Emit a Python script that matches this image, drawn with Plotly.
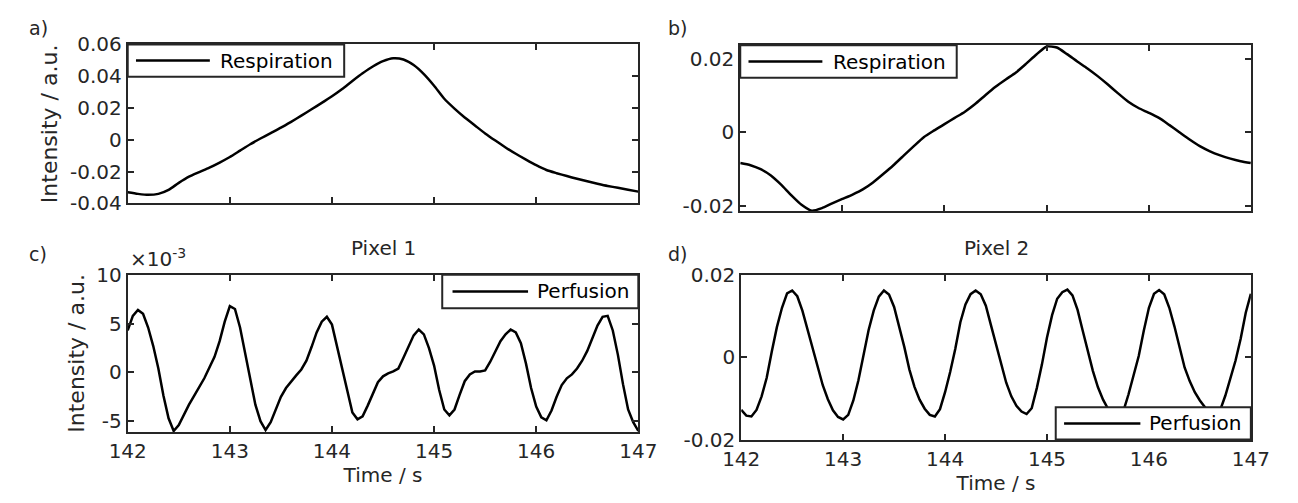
import numpy as np
import plotly.graph_objects as go

W, H = 1298, 503

# ---------------- data ----------------
t_resp = np.round(np.arange(51) * 0.1 + 142.0, 2)
t_perf = np.round(np.arange(101) * 0.05 + 142.0, 2)

resp_a = [-0.0330, -0.0340, -0.0346, -0.0340, -0.0315, -0.0271, -0.0232, -0.0203, -0.0175, -0.0143,
          -0.0108, -0.0068, -0.0028, 0.0008, 0.0042, 0.0076, 0.0113, 0.0152, 0.0192, 0.0232,
          0.0274, 0.0320, 0.0370, 0.0418, 0.0461, 0.0495, 0.0513, 0.0505, 0.0470, 0.0413,
          0.0340, 0.0258, 0.0196, 0.0140, 0.0090, 0.0040, -0.0005, -0.0048, -0.0088, -0.0125,
          -0.0160, -0.0190, -0.0210, -0.0228, -0.0245, -0.0261, -0.0276, -0.0290, -0.0302, -0.0314,
          -0.0326]

resp_b = [-0.0084, -0.0090, -0.0101, -0.0118, -0.0143, -0.0172, -0.0198, -0.0214, -0.0207, -0.0194,
          -0.0182, -0.0170, -0.0156, -0.0137, -0.0114, -0.0090, -0.0064, -0.0038, -0.0013, 0.0005,
          0.0022, 0.0039, 0.0056, 0.0077, 0.0101, 0.0124, 0.0144, 0.0163, 0.0187, 0.0212,
          0.0234, 0.0231, 0.0213, 0.0193, 0.0174, 0.0153, 0.0130, 0.0106, 0.0083, 0.0066,
          0.0053, 0.0039, 0.0020, 0.0000, -0.0020, -0.0038, -0.0052, -0.0063, -0.0072, -0.0079,
          -0.0084]

# perfusion signals in units of 1e-3
perf1_e3 = [4.3, 5.8, 6.4, 6.0, 4.6, 2.7, 0.4, -2.4, -4.7, -6.0,
            -5.4, -4.3, -3.3, -2.4, -1.5, -0.6, 0.5, 1.6, 3.2, 5.2,
            6.8, 6.5, 4.6, 1.9, -0.9, -3.3, -5.0, -5.9, -5.1, -3.7,
            -2.5, -1.6, -0.9, -0.3, 0.3, 1.2, 2.6, 4.1, 5.2, 5.7,
            4.9, 2.6, 0.2, -2.0, -4.1, -4.8, -4.5, -3.4, -2.1, -1.0,
            -0.4, -0.1, 0.1, 0.4, 1.5, 2.7, 3.8, 4.4, 3.9, 2.5,
            0.7, -1.8, -3.8, -4.4, -3.8, -2.3, -0.9, -0.2, 0.1, 0.1,
            0.2, 1.1, 2.2, 3.2, 3.9, 4.4, 4.1, 3.0, 0.9, -1.6,
            -3.5, -4.6, -4.9, -3.9, -2.5, -1.3, -0.6, -0.2, 0.4, 1.2,
            2.2, 3.5, 4.8, 5.7, 5.8, 4.3, 1.8, -1.2, -3.8, -5.1,
            -6.0]

perf2_e3 = [-12.8, -14.2, -14.4, -12.8, -9.5, -5.0, 1.4, 7.3, 12.0, 15.5,
            16.2, 14.8, 11.3, 6.8, 2.2, -2.4, -6.8, -10.2, -12.9, -14.5,
            -15.1, -14.0, -10.5, -5.6, 0.5, 6.6, 11.3, 14.7, 16.2, 15.2,
            12.2, 7.5, 2.5, -3.0, -7.2, -10.3, -12.5, -14.0, -14.4, -12.6,
            -8.5, -3.6, 2.0, 8.5, 12.8, 15.3, 16.2, 15.3, 12.5, 7.8,
            3.3, -1.8, -6.2, -9.5, -11.8, -13.2, -13.8, -12.4, -7.5, -1.8,
            4.8, 10.2, 14.2, 15.8, 16.4, 15.0, 11.5, 6.5, 1.5, -3.3,
            -7.3, -10.3, -12.6, -14.0, -14.4, -13.0, -9.0, -4.5, 0.3, 6.5,
            12.0, 15.4, 16.3, 15.3, 12.0, 7.5, 2.2, -2.5, -5.8, -8.5,
            -10.5, -12.2, -13.8, -14.2, -12.8, -9.3, -5.2, -0.8, 4.5, 10.8,
            15.4]

x_ticks = [142, 143, 144, 145, 146, 147]
ya_ticks = [-0.04, -0.02, 0, 0.02, 0.04, 0.06]
ya_text = ["-0.04", "-0.02", "0", "0.02", "0.04", "0.06"]
yb_ticks = [-0.02, 0, 0.02]
yb_text = ["-0.02", "0", "0.02"]
yc_ticks = [-5e-3, 0, 5e-3, 10e-3]
yc_text = ["-5", "0", "5", "10"]
yd_ticks = [-0.02, 0, 0.02]
yd_text = ["-0.02", "0", "0.02"]

perf1 = [v * 1e-3 for v in perf1_e3]
perf2 = [v * 1e-3 for v in perf2_e3]

# ---------------- layout helpers ----------------
FONT = "DejaVu Sans"
AX = "#262626"


def px(x):
    return x / W


def py(y):
    return 1 - y / H


def dom_x(l, r):
    return [px(l), px(r)]


def dom_y(top, bottom):
    return [py(bottom), py(top)]


boxes = {
    "a": (112, 638, 34, 201),
    "b": (743, 1269, 35, 209),
    "c": (112, 638, 276, 441),
    "d": (744, 1269, 276, 449),
}

common = dict(showline=True, linecolor=AX, linewidth=2, mirror="ticks",
              ticks="inside", ticklen=6, tickwidth=2, tickcolor=AX,
              showgrid=False, zeroline=False,
              tickfont=dict(family=FONT, size=20, color=AX))

fig = go.Figure()
line = dict(color="black", width=2.5)
fig.add_trace(go.Scatter(x=t_resp, y=resp_a, mode="lines", line=dict(line, shape="spline", smoothing=0.6),
                         xaxis="x", yaxis="y", showlegend=False))
fig.add_trace(go.Scatter(x=t_resp, y=resp_b, mode="lines", line=dict(line, shape="spline", smoothing=0.6),
                         xaxis="x2", yaxis="y2", showlegend=False))
fig.add_trace(go.Scatter(x=t_perf, y=perf1, mode="lines", line=line,
                         xaxis="x3", yaxis="y3", showlegend=False))
fig.add_trace(go.Scatter(x=t_perf, y=perf2, mode="lines", line=line,
                         xaxis="x4", yaxis="y4", showlegend=False))

title_font = dict(family=FONT, size=20, color=AX)
ytitle_font = dict(family=FONT, size=22, color=AX)

lay = dict(
    width=W, height=H, margin=dict(l=0, r=0, t=0, b=0),
    paper_bgcolor="white", plot_bgcolor="white", showlegend=False,
)
for i, key in enumerate(["a", "b", "c", "d"]):
    l, r, t, b = boxes[key]
    xs = "xaxis" if i == 0 else f"xaxis{i+1}"
    ys = "yaxis" if i == 0 else f"yaxis{i+1}"
    xa = dict(common, domain=dom_x(l, r), range=[142, 147], tickvals=x_ticks,
              anchor="y" if i == 0 else f"y{i+1}")
    if key in ("a", "b"):
        xa["showticklabels"] = False
    else:
        xa["ticktext"] = [str(v) for v in x_ticks]
        xa["title"] = dict(text="Time / s", font=title_font, standoff=4)
    ya = dict(common, domain=dom_y(t, b), anchor="x" if i == 0 else f"x{i+1}")
    if key == "a":
        ya.update(range=[-0.04, 0.06], tickvals=ya_ticks, ticktext=ya_text,
                  title=dict(text="Intensity / a.u.", font=ytitle_font, standoff=6))
    elif key == "b":
        ya.update(range=[-0.0215, 0.0237], tickvals=yb_ticks, ticktext=yb_text)
    elif key == "c":
        ya.update(range=[-6.1e-3, 10e-3], tickvals=yc_ticks, ticktext=yc_text,
                  title=dict(text="Intensity / a.u.", font=ytitle_font, standoff=6))
    else:
        ya.update(range=[-0.02, 0.02], tickvals=yd_ticks, ticktext=yd_text)
    lay[xs] = xa
    lay[ys] = ya

fig.update_layout(**lay)

# ---------------- legends (drawn as boxes) ----------------
legends = [
    # (box l, r, t, b, line x0, x1, text x, text, center y)
    (112, 335, 34, 68, 120.5, 196.6, 205, "Respiration", 51),
    (743, 966, 35, 69, 751.5, 827.6, 836, "Respiration", 52),
    (436, 638, 276, 311, 446.6, 524.4, 531.5, "Perfusion", 293.5),
    (1068, 1269, 415, 449, 1076.6, 1155.2, 1162.5, "Perfusion", 432),
]
shapes = []
annotations = []
for (l, r, t, b, lx0, lx1, tx, txt, cy) in legends:
    shapes.append(dict(type="rect", xref="paper", yref="paper", x0=px(l), x1=px(r), y0=py(b), y1=py(t),
                       line=dict(color=AX, width=2), fillcolor="white", layer="above"))
    shapes.append(dict(type="line", xref="paper", yref="paper", x0=px(lx0), x1=px(lx1), y0=py(cy), y1=py(cy),
                       line=dict(color="black", width=2.5), layer="above"))
    annotations.append(dict(x=px(tx), y=py(cy), xref="paper", yref="paper", text=txt, showarrow=False,
                            xanchor="left", yanchor="middle", font=dict(family=FONT, size=20, color="black")))

# panel labels
for (x, y, txt) in [(8, 17, "a)"), (667, 17, "b)"), (8, 254, "c)"), (667, 254, "d)")]:
    annotations.append(dict(x=px(x), y=py(y), xref="paper", yref="paper", text=txt, showarrow=False,
                            xanchor="left", yanchor="middle", font=dict(family=FONT, size=19, color=AX)))

# titles
annotations.append(dict(x=px(375), y=py(248), xref="paper", yref="paper", text="Pixel 1", showarrow=False,
                        xanchor="center", yanchor="middle", font=dict(family=FONT, size=20, color=AX)))
annotations.append(dict(x=px(1006.5), y=py(248), xref="paper", yref="paper", text="Pixel 2", showarrow=False,
                        xanchor="center", yanchor="middle", font=dict(family=FONT, size=20, color=AX)))
# exponent label
annotations.append(dict(x=px(112), y=py(274), xref="paper", yref="paper", text="×10<sup>-3</sup>",
                        showarrow=False, xanchor="left", yanchor="bottom",
                        font=dict(family=FONT, size=20, color=AX)))

fig.update_layout(shapes=shapes, annotations=annotations)
fig.write_html(
    "out.html",
    config={"displayModeBar": False},
    post_script="document.body.style.margin='0px';document.body.style.padding='0px';"
                "document.body.style.overflow='hidden';",
)
